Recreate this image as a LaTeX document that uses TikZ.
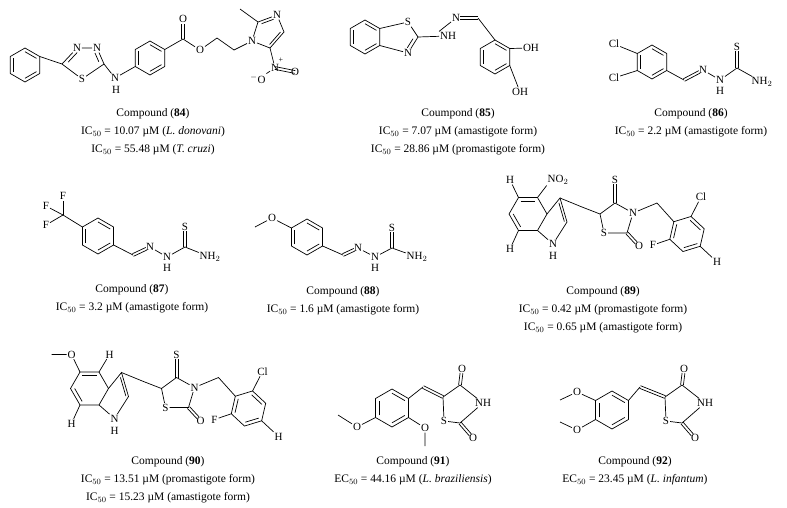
\documentclass[tikz,border=0pt]{standalone}
\usepackage{fontspec}
\setmainfont{Liberation Serif}
\usetikzlibrary{calc}
\begin{document}
\begin{tikzpicture}[x=1pt,y=-1pt,
 bond/.style={line width=0.7pt,black},
 atm/.style={inner sep=0.8pt,font=\fontsize{11}{11}\selectfont},
 capt/.style={anchor=north,font=\fontsize{11.5}{18}\selectfont,align=center}]
\useasboundingbox (0,0) rectangle (787,507);
\newcommand\hexr[5]{\coordinate (#1c) at (#2,#3);
 \foreach \k in {1,...,6}{\coordinate (#1\k) at ($(#2,#3)+({#5+(\k-1)*60}:#4)$);}
 \draw[bond] (#11)--(#12)--(#13)--(#14)--(#15)--(#16)--cycle;}
\newcommand\inr[4][0pt]{\draw[bond,shorten <=#1,shorten >=#1] ($(#2)!0.22!(#4)$)--($(#3)!0.22!(#4)$);}
\newcommand\dbx[3][0pt]{\draw[bond,shorten >=#1] ($(#2)!1.4pt!90:(#3)$)--($(#3)!1.4pt!-90:(#2)$);
 \draw[bond,shorten >=#1] ($(#2)!1.4pt!-90:(#3)$)--($(#3)!1.4pt!90:(#2)$);}
% ================= 84
\hexr{pa}{25}{65}{17}{30}
\inr{pa1}{pa2}{pac}\inr{pa3}{pa4}{pac}\inr{pa5}{pa6}{pac}
\coordinate (t5) at (62,64); \coordinate (t2) at (104,64); \coordinate (tc) at (84,62);
\node[atm] (t4) at (77,48) {N}; \node[atm] (t3) at (97,48) {N}; \node[atm] (t1) at (82,79) {S};
\draw[bond] (pa6)--(t5)--(t4)--(t3)--(t2)--(t1)--(t5);
\inr[2pt]{t5}{t4}{tc}\inr[2pt]{t3}{t2}{tc}
\node[atm] (nh84) at (115,78) {N}; \node[atm] (h84) at (116,90) {H};
\hexr{pb}{150}{58}{17}{30}
\inr{pb1}{pb2}{pbc}\inr{pb3}{pb4}{pbc}\inr{pb5}{pb6}{pbc}
\draw[bond] (t2)--(nh84)--(pb3);
\coordinate (c84) at (183,39); \node[atm] (o84a) at (183,19) {O}; \node[atm] (o84b) at (200,50) {O};
\coordinate (ch1) at (217,38); \coordinate (ch2) at (234,50);
\node[atm] (nim) at (252,41) {N}; \coordinate (im2) at (258,22); \node[atm] (im3) at (277,15) {N};
\coordinate (im4) at (284,32); \coordinate (im5) at (270,48); \coordinate (imc) at (268,32); \coordinate (me84) at (240,9);
\draw[bond] (pb6)--(c84)--(o84b)--(ch1)--(ch2)--(nim)--(im2)--(im3)--(im4)--(im5)--(nim);
\draw[bond] (im2)--(me84);
\dbx[5pt]{c84}{o84a}
\inr[1.5pt]{im2}{im3}{imc}\inr{im4}{im5}{imc}
\node[atm] (nn) at (275,68) {N}; \node[atm,font=\fontsize{8}{8}\selectfont] (nplus) at (281,60) {+};
\node[atm] (on1) at (295,72) {O}; \node[atm] (on2) at (258,79) {$^{-}$O};
\draw[bond] (im5)--(nn)--(on2);
\dbx{nn}{on1}
\node[capt] (cap84) at (153,105) {Compound (\textbf{84})\\IC$_{50}$ = 10.07 µM (\textit{L. donovani})\\IC$_{50}$ = 55.48 µM (\textit{T. cruzi})};
% ================= 85
\hexr{pc}{365}{37}{17}{30}
\inr{pc1}{pc2}{pcc}\inr{pc3}{pc4}{pcc}\inr{pc5}{pc6}{pcc}
\node[atm] (s85) at (408,22) {S}; \coordinate (c285) at (418,37); \node[atm] (n85) at (408,53) {N};
\coordinate (tz85) at (400,37);
\draw[bond] (pc6)--(s85)--(c285)--(n85)--(pc1);
\inr[2pt]{c285}{n85}{tz85}
\node[atm] (nh85) at (448,36) {NH}; \node[atm] (n85b) at (456,18) {N};
\coordinate (ch85) at (478,18);
\draw[bond] (c285)--(nh85); \draw[bond] (n85b)--(nh85.north west);
\dbx[4pt]{ch85}{n85b}
\hexr{pd}{495}{57}{17}{30}
\inr{pd1}{pd2}{pdc}\inr{pd3}{pd4}{pdc}\inr{pd5}{pd6}{pdc}
\draw[bond] (ch85)--(pd5);
\node[atm,anchor=west] (oh1) at (522,48) {OH}; \node[atm] (oh2) at (520,92) {OH};
\draw[bond] (pd6)--(oh1); \draw[bond] (pd1)--(oh2);
\node[capt] (cap85) at (458,105) {Coumpond (\textbf{85})\\IC$_{50}$ = 7.07 µM (amastigote form)\\IC$_{50}$ = 28.86 µM (promastigote form)};
% ================= 86
\hexr{pe}{652}{62}{17}{30}
\inr{pe1}{pe2}{pec}\inr{pe3}{pe4}{pec}\inr{pe5}{pe6}{pec}
\node[atm] (cl1) at (614,44) {Cl}; \node[atm] (cl2) at (614,78) {Cl};
\draw[bond] (pe4)--(cl1); \draw[bond] (pe3)--(cl2);
\coordinate (ch86) at (684,80); \node[atm] (n86) at (703,70) {N}; \node[atm] (nh86) at (720,80) {N};
\node[atm] (h86) at (720,91) {H}; \coordinate (c86) at (737,68); \node[atm] (s86) at (737,47) {S};
\node[atm] (nh286) at (762,82) {NH$_2$};
\draw[bond] (pe1)--(ch86); \dbx[4pt]{ch86}{n86}
\draw[bond] (n86)--(nh86)--(c86)--(nh286);
\dbx[4pt]{c86}{s86}
\node[capt] (cap86) at (691,105) {Compound (\textbf{86})\\IC$_{50}$ = 2.2 µM (amastigote form)};
% ================= 87
\hexr{pf}{98}{236}{18}{30}
\inr{pf1}{pf2}{pfc}\inr{pf3}{pf4}{pfc}\inr{pf5}{pf6}{pfc}
\coordinate (cf) at (63,215);
\node[atm] (f1) at (63,196) {F}; \node[atm] (f2) at (46,206) {F}; \node[atm] (f3) at (46,225) {F};
\draw[bond] (pf4)--(cf); \draw[bond] (cf)--(f1); \draw[bond] (cf)--(f2); \draw[bond] (cf)--(f3);
\coordinate (ch87) at (133,255); \node[atm] (n87) at (150,247) {N}; \node[atm] (nh87) at (167,257) {N};
\node[atm] (h87) at (167,268) {H}; \coordinate (c87) at (185,247); \node[atm] (s87) at (185,227) {S};
\node[atm] (nh287) at (210,257) {NH$_2$};
\draw[bond] (pf1)--(ch87); \dbx[4pt]{ch87}{n87}
\draw[bond] (n87)--(nh87)--(c87)--(nh287);
\dbx[4pt]{c87}{s87}
\node[capt] (cap87) at (132,281) {Compound (\textbf{87})\\IC$_{50}$ = 3.2 µM (amastigote form)};
% ================= 88
\hexr{pg}{307}{237}{18}{30}
\inr{pg1}{pg2}{pgc}\inr{pg3}{pg4}{pgc}\inr{pg5}{pg6}{pgc}
\node[atm] (o88) at (272,218) {O}; \coordinate (me88) at (255,227);
\draw[bond] (pg4)--(o88)--(me88);
\coordinate (ch88) at (343,255); \node[atm] (n88) at (358,248) {N}; \node[atm] (nh88) at (375,257) {N};
\node[atm] (h88) at (375,268) {H}; \coordinate (c88) at (392,248); \node[atm] (s88) at (392,228) {S};
\node[atm] (nh288) at (417,257) {NH$_2$};
\draw[bond] (pg1)--(ch88); \dbx[4pt]{ch88}{n88}
\draw[bond] (n88)--(nh88)--(c88)--(nh288);
\dbx[4pt]{c88}{s88}
\node[capt] (cap88) at (343,283) {Compound (\textbf{88})\\IC$_{50}$ = 1.6 µM (amastigote form)};
% ================= 89 / 90 core
\newcommand\core[1]{%
 \hexr{#1r}{528}{214}{19}{0}
 \inr{#1r5}{#1r6}{#1rc}\inr{#1r3}{#1r4}{#1rc}
 \node[atm] (#1hb) at (510,249) {H}; \draw[bond] (#1r3)--(#1hb);
 \coordinate (#1c3) at (560,198); \coordinate (#1c2) at (567,222); \coordinate (#1pc) at (555,220);
 \node[atm] (#1n) at (553,244) {N}; \node[atm] (#1nh) at (553,256) {H};
 \draw[bond] (#1r1)--(#1c3)--(#1c2)--(#1n)--(#1r2);
 \inr{#1c3}{#1c2}{#1pc}
 \coordinate (#1m) at (582,207); \coordinate (#1t5) at (600,214); \coordinate (#1t4) at (615,203);
 \node[atm] (#1ts) at (615,180) {S}; \node[atm] (#1tn) at (633,213) {N}; \coordinate (#1t2) at (627,233);
 \node[atm] (#1to) at (639,246) {O}; \node[atm] (#1s1) at (604,233) {S};
 \draw[bond] (#1c3)--(#1m)--(#1t5)--(#1t4)--(#1tn)--(#1t2)--(#1s1)--(#1t5);
 \dbx[4pt]{#1t4}{#1ts} \dbx[4pt]{#1t2}{#1to}
 \coordinate (#1m2) at (657,203);
 \hexr{#1b}{687}{234}{18}{223}
 \inr{#1b6}{#1b1}{#1bc}\inr{#1b2}{#1b3}{#1bc}\inr{#1b4}{#1b5}{#1bc}
 \draw[bond] (#1tn)--(#1m2)--(#1b1);
 \node[atm] (#1cl) at (701,197) {Cl}; \node[atm] (#1hh) at (717,262) {H}; \node[atm] (#1f) at (653,245) {F};
 \draw[bond] (#1b2)--(#1cl); \draw[bond] (#1b4)--(#1hh); \draw[bond] (#1b6)--(#1f);}
\core{x}
\node[atm] (h89a) at (510,180) {H}; \node[atm] (no289) at (558,180) {NO$_2$};
\draw[bond] (xr5)--(h89a); \draw[bond] (xr6)--(no289.south west);
\node[capt] (cap89) at (603,283) {Compound (\textbf{89})\\IC$_{50}$ = 0.42 µM (promastigote form)\\IC$_{50}$ = 0.65 µM (amastigote form)};
\begin{scope}[shift={(-438.5,174.5)}]
\core{y}
\node[atm] (o90) at (510,180) {O}; \coordinate (me90) at (490,180); \node[atm] (h90a) at (548,180) {H};
\draw[bond] (yr5)--(o90)--(me90); \draw[bond] (yr6)--(h90a);
\end{scope}
\node[capt] (cap90) at (168,453) {Compound (\textbf{90})\\IC$_{50}$ = 13.51 µM (promastigote form)\\IC$_{50}$ = 15.23 µM (amastigote form)};
% ================= 91 / 92 TZD
\newcommand\tzd[1]{%
 \coordinate (#1t5) at (443,397); \coordinate (#1t4) at (460,385); \node[atm] (#1o1) at (462,369) {O};
 \node[atm] (#1nh) at (483,403) {NH}; \coordinate (#1t2) at (460,423); \node[atm] (#1o2) at (473,438) {O};
 \node[atm] (#1s) at (444,421) {S};
 \draw[bond] (#1t5)--(#1t4)--(#1nh)--(#1t2)--(#1s)--(#1t5);
 \dbx[4pt]{#1t4}{#1o1} \dbx[4pt]{#1t2}{#1o2}}
\hexr{ph}{392}{408}{19}{30}
\inr{ph1}{ph2}{phc}\inr{ph3}{ph4}{phc}\inr{ph5}{ph6}{phc}
\node[atm] (o91a) at (357,427) {O}; \coordinate (me91a) at (338,415);
\node[atm] (o91b) at (425,428) {O}; \coordinate (me91b) at (425,446);
\draw[bond] (ph3)--(o91a)--(me91a); \draw[bond] (ph1)--(o91b)--(me91b);
\coordinate (ch91) at (423,387);
\draw[bond] (ph6)--(ch91);
\tzd{u}
\dbx{ch91}{ut5}
\node[capt] (cap91) at (413,453) {Compound (\textbf{91})\\EC$_{50}$ = 44.16 µM (\textit{L. braziliensis})};
\hexr{pi}{612}{410}{19}{30}
\inr{pi1}{pi2}{pic}\inr{pi3}{pi4}{pic}\inr{pi5}{pi6}{pic}
\node[atm] (o92a) at (577,392) {O}; \coordinate (me92a) at (560,400);
\node[atm] (o92b) at (577,430) {O}; \coordinate (me92b) at (560,422);
\draw[bond] (pi4)--(o92a)--(me92a); \draw[bond] (pi3)--(o92b)--(me92b);
\coordinate (ch92) at (640,387);
\draw[bond] (pi6)--(ch92);
\begin{scope}[shift={(222,0)}]
\tzd{v}
\end{scope}
\dbx{ch92}{vt5}
\node[capt] (cap92) at (635,453) {Compound (\textbf{92})\\EC$_{50}$ = 23.45 µM (\textit{L. infantum})};
\end{tikzpicture}
\end{document}
